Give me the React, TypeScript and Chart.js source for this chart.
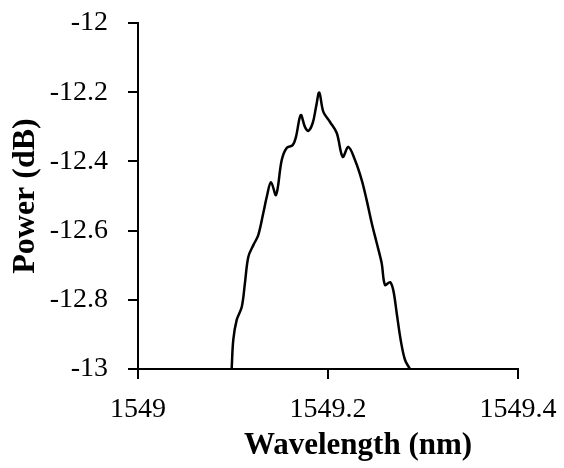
import React, { useEffect, useRef } from "react";
import { Chart, registerables } from "chart.js";

Chart.register(...registerables);

const wavelength: number[] = [
  1549.0986, 1549.1003, 1549.1039, 1549.1092, 1549.1126, 1549.1161, 1549.1214, 1549.1266,
  1549.1319, 1549.1355, 1549.14, 1549.1453, 1549.1513, 1549.1565, 1549.1628, 1549.1663,
  1549.1713, 1549.1758, 1549.1793, 1549.1839, 1549.1874, 1549.1908, 1549.1951, 1549.2021,
  1549.2092, 1549.2155, 1549.2214, 1549.2284, 1549.2355, 1549.2407, 1549.246, 1549.2513,
  1549.2565, 1549.26, 1549.2653, 1549.2687, 1549.2723, 1549.2765, 1549.2811, 1549.2863,
];
const power: number[] = [
  -13.0, -12.916, -12.858, -12.821, -12.751, -12.676, -12.642, -12.613,
  -12.549, -12.503, -12.46, -12.497, -12.396, -12.361, -12.353, -12.329,
  -12.266, -12.301, -12.312, -12.289, -12.243, -12.201, -12.257, -12.286,
  -12.318, -12.387, -12.358, -12.396, -12.454, -12.512, -12.578, -12.636,
  -12.694, -12.757, -12.749, -12.772, -12.838, -12.916, -12.974, -13.0,
];
const xRange = { min: 1549, max: 1549.4, step: 0.2 };
const yRange = { min: -13, max: -12, step: 0.2 };
const xTitle = "Wavelength (nm)";
const yTitle = "Power (dB)";

const FONT = "'Liberation Serif', 'Times New Roman', serif";

const fmt = (v: number | string) => String(Number(Number(v).toFixed(1)));

const titlesPlugin = {
  id: "customTitles",
  afterDraw(chart: any) {
    const { ctx, chartArea } = chart;
    ctx.save();
    ctx.fillStyle = "#000";
    ctx.font = `bold 31px ${FONT}`;
    ctx.textAlign = "center";
    ctx.textBaseline = "middle";
    const cx = (chartArea.left + chartArea.right) / 2 + 30;
    ctx.fillText(xTitle, cx, 446);
    ctx.translate(26, (chartArea.top + chartArea.bottom) / 2);
    ctx.rotate(-Math.PI / 2);
    ctx.font = `bold 32px ${FONT}`;
    ctx.fillText(yTitle, 0, 0);
    ctx.restore();
  },
};

export default function App() {
  const ref = useRef<HTMLCanvasElement>(null);
  useEffect(() => {
    if (!ref.current) return;
    const chart = new Chart(ref.current, {
      type: "line",
      data: {
        datasets: [
          {
            data: wavelength.map((x, i) => ({ x, y: power[i] })),
            borderColor: "#000",
            borderWidth: 2.5,
            pointRadius: 0,
            tension: 0.35,
            fill: false,
          },
        ],
      },
      options: {
        animation: false,
        responsive: false,
        layout: { padding: { top: 23, right: 46, left: 0, bottom: 0 } },
        plugins: { legend: { display: false }, tooltip: { enabled: false } },
        scales: {
          x: {
            type: "linear",
            min: xRange.min,
            max: xRange.max,
            afterFit: (s: any) => {
              s.height = 99;
              s.paddingLeft = 0;
              s.paddingRight = 0;
            },
            afterBuildTicks: (s: any) => {
              const t = [];
              for (let v = xRange.min; v <= xRange.max + 1e-9; v += xRange.step) t.push({ value: Number(v.toFixed(2)) });
              s.ticks = t;
            },
            ticks: {
              callback: (v: any) => fmt(v),
              color: "#000",
              font: { family: FONT, size: 28 },
              padding: 14,
              maxRotation: 0,
            },
            grid: { drawOnChartArea: false, drawTicks: true, tickLength: 10, color: "#000", lineWidth: 2 },
            border: { display: true, color: "#000", width: 2 },
          },
          y: {
            type: "linear",
            min: yRange.min,
            max: yRange.max,
            afterFit: (s: any) => {
              s.width = 138;
              s.paddingTop = 0;
              s.paddingBottom = 0;
            },
            afterBuildTicks: (s: any) => {
              const t = [];
              for (let v = yRange.min; v <= yRange.max + 1e-9; v += yRange.step) t.push({ value: Number(v.toFixed(2)) });
              s.ticks = t;
            },
            ticks: {
              callback: (v: any) => fmt(v),
              color: "#000",
              font: { family: FONT, size: 28 },
              padding: 20,
            },
            grid: { drawOnChartArea: false, drawTicks: true, tickLength: 10, color: "#000", lineWidth: 2 },
            border: { display: true, color: "#000", width: 2 },
          },
        },
      },
      plugins: [titlesPlugin],
    });
    return () => chart.destroy();
  }, []);
  return (
    <div style={{ position: "absolute", left: 0, top: 0, width: 564, height: 468, background: "#fff" }}>
      <canvas ref={ref} width={564} height={468} />
    </div>
  );
}
